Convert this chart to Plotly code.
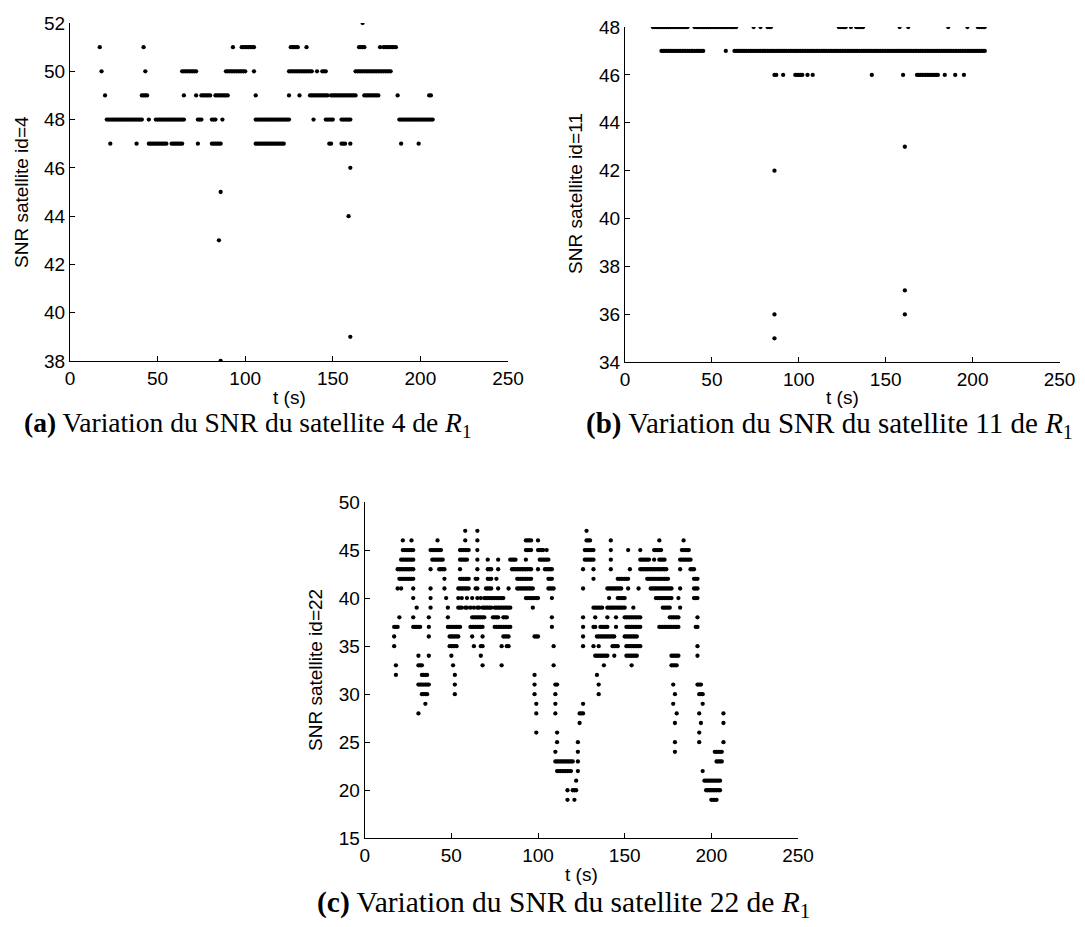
import plotly.graph_objects as go

W, H = 1085, 927

# ---------------- data (t in s, SNR level) ----------------
# Plot (a) : satellite 4
a52 = [167]
a51 = [17, 42, 93, 98, 99, 100, 101, 102, 103, 104, 105, 126, 127, 128, 129, 130, 135,
       165, 166, 167, 168, 177, 179, 180, 181, 182, 183, 184, 185, 186]
a50 = [18, 43, 64, 65, 66, 67, 68, 69, 70, 71, 72, 89, 90, 91, 92, 93, 94, 95, 96, 97, 98, 99, 100,
       105, 125, 126, 127, 128, 129, 130, 131, 132, 133, 134, 135, 136, 137, 138, 141, 144, 145, 146,
       163, 164, 165, 166, 167, 168, 169, 170, 171, 172, 173, 174, 175, 176, 177, 178, 179, 180,
       181, 182, 183]
a49 = [20, 41, 42, 43, 44, 65, 72, 75, 76, 77, 78, 79, 80, 83, 84, 85, 86, 87, 88, 89, 90, 106, 125,
       131, 137, 138, 139, 140, 141, 142, 143, 144, 145, 146, 147, 149, 150, 151, 152, 153, 154, 155,
       156, 157, 158, 159, 160, 161, 162, 163, 168, 169, 170, 171, 172, 173, 174, 175, 176, 187,
       205, 206]
a48 = [21, 22, 23, 24, 25, 26, 27, 28, 29, 30, 31, 32, 33, 34, 35, 36, 37, 38, 39, 40, 41, 45,
       49, 50, 51, 52, 53, 54, 55, 56, 57, 58, 59, 60, 61, 62, 63, 64, 65, 73, 74, 75, 81, 82, 83, 87,
       106, 107, 108, 109, 110, 111, 112, 113, 114, 115, 116, 117, 118, 119, 120, 121, 122, 123, 124,
       125, 139, 146, 147, 148, 149, 150, 155, 156, 157, 158, 159, 160, 188, 189, 190, 191, 192,
       193, 194, 195, 196, 197, 198, 199, 200, 201, 202, 203, 204, 205, 206, 207]
a47 = [23, 38, 45, 46, 47, 48, 49, 50, 51, 52, 53, 54, 55, 58, 59, 60, 61, 62, 63, 64, 73,
       81, 82, 83, 84, 85, 86, 106, 107, 108, 109, 110, 111, 112, 113, 114, 115, 116, 117, 118, 119,
       120, 121, 122, 148, 149, 155, 156, 157, 160, 189, 199]
a46 = [160]
a45 = [86]
a44 = [159]
a43 = [85]
a39 = [160]
a38 = [86]

# Plot (b) : satellite 11
b48 = [16, 17, 18, 19, 20, 21, 22, 23, 24, 25, 26, 27, 28, 29, 30, 31, 32, 33, 34, 35, 36,
       40, 41, 42, 43, 44, 45, 46, 47, 48, 49, 50, 51, 52, 53, 54, 55, 56, 57, 58, 59, 60, 61, 62,
       63, 64, 74, 78, 82, 83, 84, 123, 124, 125, 126, 127, 130, 133, 134, 135, 136, 137, 158, 163,
       186, 197, 203, 204, 205, 206, 207]
b47 = [21, 22, 23, 24, 25, 26, 27, 28, 29, 30, 31, 32, 33, 34, 35, 36, 37, 38, 39, 40, 41, 42,
       43, 44, 45, 58, 63, 64, 65, 66, 67, 68, 69, 70, 71, 72, 73, 74, 75, 76, 77, 78, 79, 80, 81,
       82, 83, 84, 85, 86, 87, 88, 89, 90, 91, 92, 93, 94, 95, 96, 97, 98, 99, 100, 101, 102, 103,
       104, 105, 106, 107, 108, 109, 110, 111, 112, 113, 114, 115, 116, 117, 118, 119, 120, 121,
       122, 123, 124, 125, 126, 127, 128, 129, 130, 131, 132, 133, 134, 135, 136, 137, 138, 139,
       140, 141, 142, 143, 144, 145, 146, 147, 148, 149, 150, 151, 152, 153, 154, 155, 156, 157,
       158, 159, 160, 161, 162, 163, 164, 165, 166, 167, 168, 169, 170, 171, 172, 173, 174, 175,
       176, 177, 178, 179, 180, 181, 182, 183, 184, 185, 186, 187, 188, 189, 190, 191, 192, 193,
       194, 195, 196, 197, 198, 199, 200, 201, 202, 203, 204, 205, 206, 207]
b46 = [86, 87, 91, 98, 99, 100, 101, 102, 105, 108, 142, 160, 168, 169, 170, 171, 172, 173,
       174, 175, 176, 177, 178, 179, 180, 184, 190, 195]
b43 = [161]
b42 = [86]
b37 = [161]
b36 = [86, 161]
b35 = [86]

# Plot (c) : satellite 22
c47 = [58, 65, 128]
c46 = [22, 27, 42, 58, 65, 93, 94, 95, 96, 100, 128, 129, 130, 142, 170, 184]
c45 = [22, 23, 24, 25, 26, 27, 28, 38, 39, 40, 41, 42, 43, 44, 55, 56, 57, 58, 59, 60, 65,
       93, 94, 95, 96, 100, 101, 102, 103, 105, 127, 128, 129, 130, 131, 132, 142, 152, 159,
       167, 168, 169, 170, 171, 183, 184, 185, 186, 187]
c44 = [21, 22, 23, 24, 25, 26, 27, 28, 39, 40, 41, 42, 43, 44, 45, 55, 56, 57, 58, 59, 65, 71,
       77, 84, 85, 86, 87, 93, 101, 102, 103, 104, 105, 106, 127, 128, 129, 130, 131, 132, 142,
       159, 160, 161, 162, 163, 164, 167, 170, 171, 172, 173, 182, 183, 184, 185, 186, 187, 188]
c43 = [19, 20, 21, 22, 23, 24, 25, 26, 27, 28, 38, 43, 44, 45, 46, 55, 65, 71, 72, 73, 77,
       85, 86, 87, 88, 89, 90, 91, 92, 93, 94, 95, 96, 100, 104, 105, 106, 107, 108, 126, 132,
       142, 153, 159, 160, 161, 162, 163, 164, 165, 166, 167, 168, 169, 170, 171, 172, 173, 174,
       182, 188, 189, 190]
c42 = [20, 21, 22, 23, 24, 25, 26, 27, 28, 46, 55, 56, 57, 58, 59, 60, 64, 65, 71, 72, 73, 76,
       88, 89, 90, 91, 92, 93, 94, 95, 96, 106, 107, 108, 132, 146, 147, 148, 149, 150, 151, 152,
       163, 164, 165, 166, 167, 168, 169, 170, 171, 172, 173, 174, 175, 190, 191, 192]
c41 = [19, 21, 28, 38, 46, 54, 55, 56, 57, 58, 59, 60, 64, 65, 70, 71, 72, 73, 77, 83, 88, 89,
       90, 91, 92, 93, 94, 95, 96, 97, 106, 107, 108, 109, 126, 140, 141, 142, 143, 144, 145, 146,
       147, 148, 152, 158, 165, 166, 167, 168, 169, 170, 171, 172, 173, 174, 175, 176, 177, 182,
       190, 191, 192]
c40 = [28, 38, 47, 54, 56, 59, 62, 65, 67, 69, 70, 71, 72, 73, 74, 75, 76, 77, 78, 79, 80, 93,
       94, 95, 96, 97, 98, 99, 100, 108, 141, 146, 147, 148, 149, 150, 168, 169, 170, 171, 172, 173,
       174, 175, 176, 177, 181, 190, 191, 192]
c39 = [30, 38, 48, 54, 55, 56, 58, 59, 61, 63, 65, 66, 68, 69, 70, 71, 72, 73, 75, 76, 77, 78,
       79, 80, 81, 82, 83, 84, 97, 132, 133, 134, 135, 136, 137, 140, 141, 142, 143, 144, 145, 146,
       147, 148, 149, 150, 155, 172, 173, 174, 175, 176, 182]
c38 = [20, 28, 37, 48, 62, 63, 64, 65, 66, 67, 68, 69, 74, 75, 76, 77, 80, 81, 82, 108, 126,
       133, 140, 145, 150, 151, 152, 153, 154, 155, 156, 157, 158, 159, 176, 177, 178, 179, 180,
       181, 192]
c37 = [17, 18, 19, 28, 29, 30, 31, 32, 37, 48, 49, 50, 51, 52, 53, 54, 55, 61, 62, 63, 64, 65,
       66, 67, 68, 75, 76, 77, 78, 79, 80, 81, 82, 83, 84, 108, 126, 132, 133, 136, 137, 138, 139,
       140, 145, 151, 152, 153, 154, 155, 156, 157, 158, 159, 170, 171, 172, 173, 174, 175, 176,
       177, 178, 179, 180, 181, 191, 192]
c36 = [17, 37, 49, 50, 51, 52, 53, 54, 62, 68, 80, 81, 82, 83, 98, 99, 100, 126, 134, 135, 136,
       137, 138, 139, 140, 141, 142, 143, 144, 150, 151, 152, 153, 154, 155, 156, 157]
c35 = [17, 49, 50, 51, 52, 53, 63, 67, 68, 79, 82, 83, 109, 126, 132, 135, 143, 144, 145, 146,
       151, 152, 153, 154, 155, 156, 157, 158, 159, 192]
c34 = [31, 37, 50, 67, 133, 134, 135, 136, 137, 138, 139, 140, 144, 151, 152, 153, 154, 155,
       156, 157, 177, 178, 179, 180, 181, 192]
c33 = [18, 31, 32, 33, 51, 68, 79, 109, 138, 154, 177, 178, 179, 180]
c32 = [18, 33, 34, 35, 36, 52, 98, 134]
c31 = [31, 32, 33, 34, 35, 36, 37, 52, 98, 110, 111, 135, 178, 192, 193, 194]
c30 = [33, 34, 35, 36, 52, 98, 110, 135, 179, 193, 194, 195]
c29 = [35, 99, 110, 126, 178, 195]
c28 = [31, 99, 110, 124, 125, 126, 180, 193, 207]
c27 = [124, 179, 194, 207]
c26 = [99, 111, 193]
c25 = [111, 123, 179, 193, 207]
c24 = [110, 123, 179, 202, 203, 204, 205, 206]
c23 = [110, 111, 112, 113, 114, 115, 116, 117, 118, 119, 120, 123, 203, 204, 205, 206]
c22 = [111, 112, 113, 114, 115, 116, 117, 118, 119, 123, 195]
c21 = [122, 196, 197, 198, 199, 200, 201, 202, 203, 204, 205]
c20 = [117, 120, 121, 122, 197, 198, 199, 200, 201, 202, 203, 204, 205]
c19 = [117, 121, 200, 201, 202, 203]

levels_a = {52: a52, 51: a51, 50: a50, 49: a49, 48: a48, 47: a47, 46: a46, 45: a45,
            44: a44, 43: a43, 39: a39, 38: a38}
levels_b = {48: b48, 47: b47, 46: b46, 43: b43, 42: b42, 37: b37, 36: b36, 35: b35}
levels_c = {47: c47, 46: c46, 45: c45, 44: c44, 43: c43, 42: c42, 41: c41, 40: c40, 39: c39,
            38: c38, 37: c37, 36: c36, 35: c35, 34: c34, 33: c33, 32: c32, 31: c31, 30: c30,
            29: c29, 28: c28, 27: c27, 26: c26, 25: c25, 24: c24, 23: c23, 22: c22, 21: c21,
            20: c20, 19: c19}


def flatten(levels):
    xs, ys = [], []
    for lvl, ts in levels.items():
        for t in ts:
            xs.append(t)
            ys.append(lvl)
    return xs, ys


# ---------------- layout helpers ----------------
def px(x):
    return x / W


def py(y):
    return 1 - y / H


SANS = "Liberation Sans, Arial, sans-serif"
SERIF = "Liberation Serif, Times New Roman, serif"
TICKFONT = dict(family=SANS, size=19, color="black")

fig = go.Figure()

panels = [
    ("", levels_a, (62, 500), (15, 353), (38, 52), 2),
    ("2", levels_b, (617, 1051.5), (19, 354.3), (34, 48), 2),
    ("3", levels_c, (356.7, 790), (494, 830.3), (15, 50), 5),
]

for suffix, levels, (x0, x1), (ytop, ybot), yr, dt in panels:
    xs, ys = flatten(levels)
    fig.add_trace(go.Scatter(
        x=xs, y=ys, mode="markers",
        marker=dict(size=4.3, color="black", line=dict(width=0)),
        xaxis="x" + suffix, yaxis="y" + suffix, showlegend=False, hoverinfo="skip"))
    xa = dict(domain=[px(x0), px(x1)], range=[0, 250], tick0=0, dtick=50,
              showline=True, linecolor="black", linewidth=1, ticks="inside", ticklen=5,
              tickcolor="black", tickwidth=1, showgrid=False, zeroline=False,
              tickfont=TICKFONT, anchor="y" + suffix, automargin=False)
    ya = dict(domain=[py(ybot), py(ytop)], range=list(yr), tick0=yr[0], dtick=dt,
              showline=True, linecolor="black", linewidth=1, ticks="inside", ticklen=5,
              tickcolor="black", tickwidth=1, showgrid=False, zeroline=False,
              tickfont=TICKFONT, anchor="x" + suffix, automargin=False)
    fig.update_layout(**{"xaxis" + suffix: xa, "yaxis" + suffix: ya})

annotations = []


def ann(text, x, y, size, family=SANS, angle=0):
    annotations.append(dict(text=text, x=px(x), y=py(y), xref="paper", yref="paper",
                            showarrow=False, textangle=angle, xanchor="center",
                            yanchor="middle", font=dict(family=family, size=size, color="black")))


def caption(letter, sat, size):
    return ('<span style="font-weight:bold;font-size:%spx">(%s)</span> Variation du SNR du '
            'satellite %s de <span style="font-style:italic;font-size:%spx">R</span>'
            '<sub><span style="font-size:%spx">1</span></sub>'
            % (size, letter, sat, size, round(size * 0.7)))


# axis titles
ann("t (s)", 281, 389, 19)
ann("t (s)", 834, 389, 19)
ann("t (s)", 573, 866, 19)
ann("SNR satellite id=4", 13, 184, 19, angle=-90)
ann("SNR satellite id=11", 567, 186, 19, angle=-90)
ann("SNR satellite id=22", 307, 662, 19, angle=-90)

# captions
ann(caption("a", "4", 27.5), 239, 416, 27.5, SERIF)
ann(caption("b", "11", 29), 821, 417, 29, SERIF)
ann(caption("c", "22", 29.5), 555, 896, 29.5, SERIF)

fig.update_layout(width=W, height=H, margin=dict(l=0, r=0, t=0, b=0),
                  plot_bgcolor="white", paper_bgcolor="white", annotations=annotations)

fig.write_html("out.html")
